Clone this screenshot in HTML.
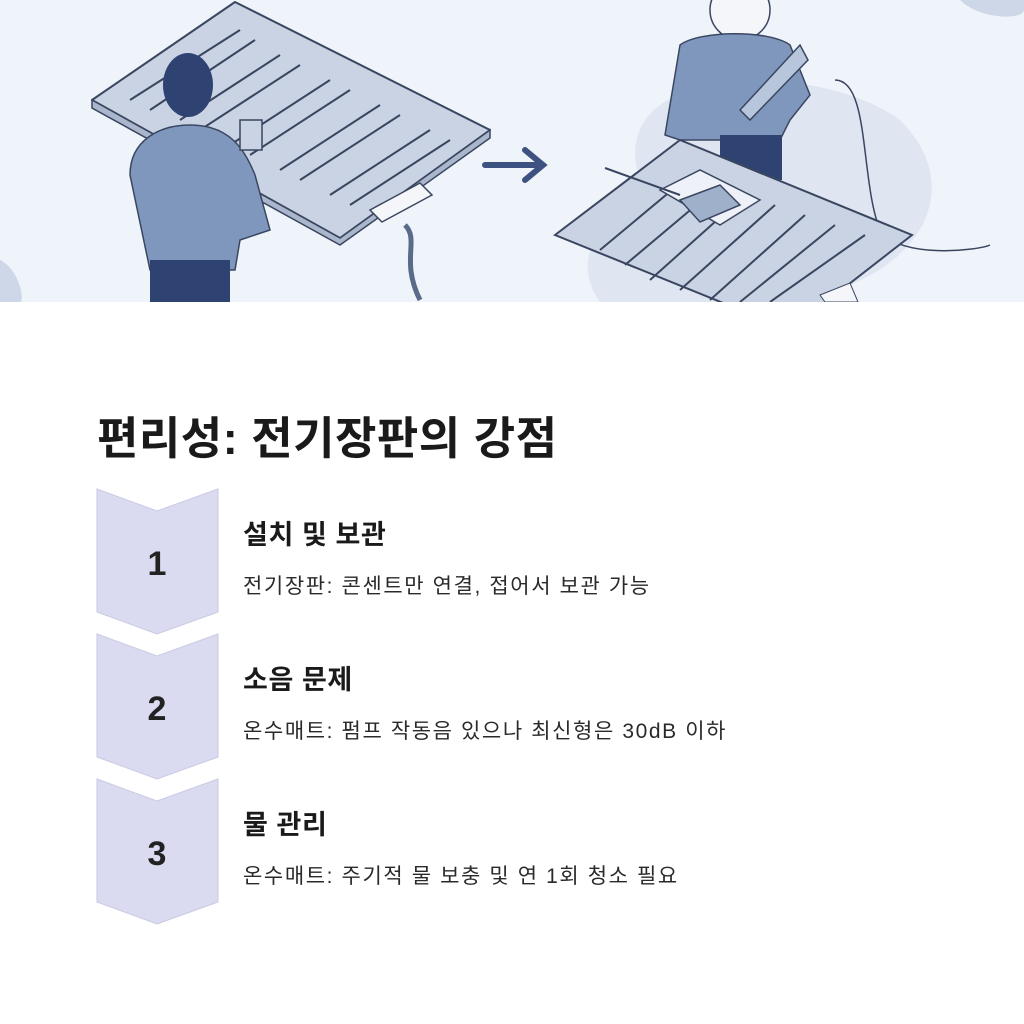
<!DOCTYPE html>
<html><head><meta charset="utf-8"><style>
body{margin:0;width:1024px;height:1024px;background:#fff;position:relative;overflow:hidden;font-family:"Liberation Sans","Noto Sans CJK KR",sans-serif;color:#1a1a1a}
.t{position:absolute;white-space:nowrap}
.h{font-size:27px;font-weight:700;letter-spacing:0.6px}
.d{font-size:21px;letter-spacing:1.6px;color:#2a2a2a}
</style></head><body>
<svg width="1024" height="302" style="position:absolute;left:0;top:0" viewBox="0 0 1024 302">
<rect width="1024" height="302" fill="#eff3fa"/>
<path d="M640 180 C600 60 820 60 900 120 C980 200 900 300 760 302 L600 302 C570 260 600 220 640 180Z" fill="#dfe6f2"/>
<path d="M960 0 C980 20 1024 20 1024 10 L1024 0Z" fill="#cdd7e8"/>
<path d="M0 260 C20 270 25 302 20 302 L0 302Z" fill="#cdd7e8"/>
<path d="M835 80 C870 80 860 180 880 230 C900 260 980 250 990 245" stroke="#3a4660" fill="none" stroke-width="1.5"/>
<polygon points="92,100 235,2 490,130 340,238" fill="#c9d3e3" stroke="#3a4660" stroke-width="2" stroke-linejoin="round"/>
<polygon points="92,108 92,100 340,238 490,130 490,138 340,245" fill="#a9b6cc" stroke="#3a4660" stroke-width="1.5"/>
<g stroke="#3a4660" fill="none" stroke-width="2">
<path d="M130 100 L240 30 M150 110 L255 40 M180 120 L280 55 M200 130 L300 65 M230 145 L330 80 M250 155 L350 90 M280 170 L380 105 M300 180 L400 115 M330 195 L430 130 M350 205 L450 140"/>
</g>
<polygon points="370,210 420,183 432,195 382,222" fill="#f4f6fa" stroke="#3a4660" stroke-width="1.5"/>
<path d="M405 225 C420 240 400 260 420 300" stroke="#5a6b8a" stroke-width="5" fill="none"/>
<ellipse cx="188" cy="85" rx="25" ry="32" fill="#2f4372"/>
<path d="M130 175 C130 140 160 125 190 125 C230 125 245 150 255 175 L270 230 L240 240 L235 270 L150 270 Z" fill="#7f97bd" stroke="#3a4660" stroke-width="1.5"/>
<rect x="150" y="260" width="80" height="42" fill="#2f4372"/>
<rect x="240" y="120" width="22" height="30" fill="#c9d3e3" stroke="#3a4660" stroke-width="1.5"/>
<path d="M485 165 L540 165 M525 150 L543 165 L525 180" stroke="#3d5280" stroke-width="6" fill="none" stroke-linecap="round"/>
<ellipse cx="740" cy="10" rx="30" ry="30" fill="#f4f6fa" stroke="#3a4660" stroke-width="1.5"/>
<path d="M680 45 C700 30 770 30 790 45 L810 95 L790 120 L780 140 L700 140 L680 140 L665 135 Z" fill="#7f97bd" stroke="#3a4660" stroke-width="1.5"/>
<polygon points="740,110 800,45 808,60 750,120" fill="#b8c6dc" stroke="#3a4660" stroke-width="1.5"/>
<rect x="720" y="135" width="62" height="45" fill="#2f4372"/>
<polygon points="555,235 680,140 912,235 790,330" fill="#c9d3e3" stroke="#3a4660" stroke-width="2"/>
<g stroke="#3a4660" fill="none" stroke-width="2">
<path d="M600 250 L690 175 M625 265 L720 185 M650 280 L745 195 M680 290 L775 205 M710 300 L805 215 M740 302 L835 225 M770 302 L865 235"/>
</g>
<polygon points="660,190 700,170 760,200 720,225" fill="#eef1f7" stroke="#3a4660" stroke-width="1.5"/>
<polygon points="680,200 720,185 740,205 700,222" fill="#9fb0cb" stroke="#3a4660" stroke-width="1.5"/>
<line x1="605" y1="168" x2="680" y2="195" stroke="#3a4660" stroke-width="2"/>
<polygon points="820,295 850,283 858,302 825,302" fill="#f4f6fa" stroke="#3a4660"/>
</svg>
<div class="t" style="left:97px;top:402px;font-size:45px;font-weight:700;letter-spacing:0.5px">편리성: 전기장판의 강점</div>
<svg width="130" height="450" style="position:absolute;left:96px;top:488px">
<g fill="#dadbf1" stroke="#c9cae3" stroke-width="1">
<polygon points="1,1 61,23 122,1 122,124 61,146 1,124"/>
<polygon points="1,146 61,168 122,146 122,269 61,291 1,269"/>
<polygon points="1,291 61,313 122,291 122,414 61,436 1,414"/>
</g>
<g font-family="Liberation Sans,sans-serif" font-weight="700" font-size="34" fill="#222" text-anchor="middle">
<text x="61" y="87">1</text><text x="61" y="232">2</text><text x="61" y="377">3</text>
</g>
</svg>
<div class="t h" style="left:243px;top:513px">설치 및 보관</div>
<div class="t d" style="left:243px;top:570px">전기장판: 콘센트만 연결, 접어서 보관 가능</div>
<div class="t h" style="left:243px;top:658px">소음 문제</div>
<div class="t d" style="left:243px;top:715px">온수매트: 펌프 작동음 있으나 최신형은 30dB 이하</div>
<div class="t h" style="left:243px;top:803px">물 관리</div>
<div class="t d" style="left:243px;top:860px">온수매트: 주기적 물 보충 및 연 1회 청소 필요</div>
</body></html>
